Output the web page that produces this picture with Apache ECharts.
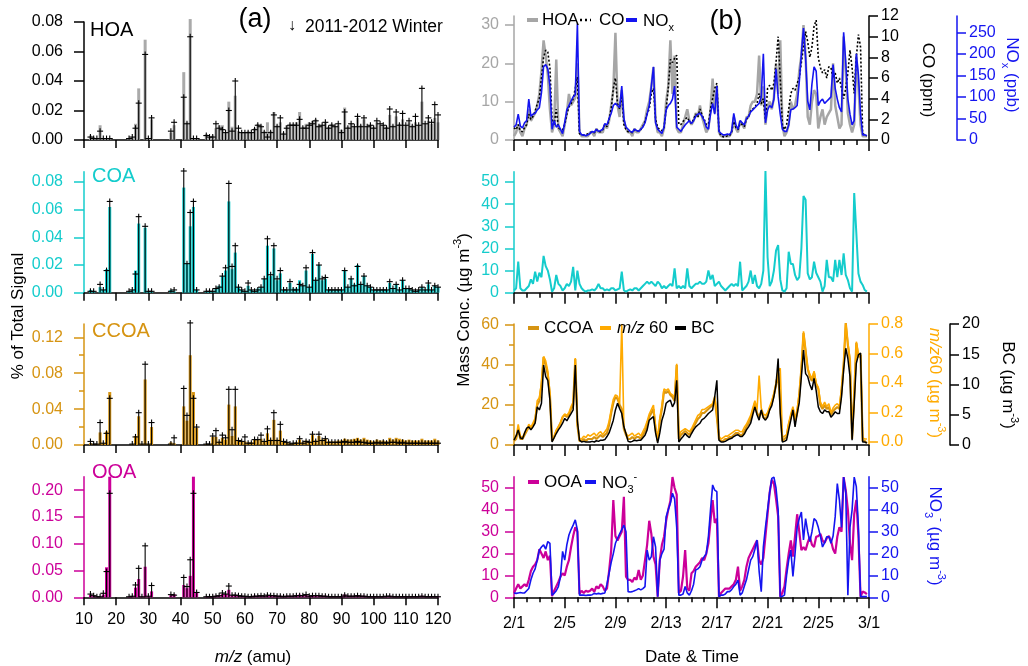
<!DOCTYPE html>
<html>
<head>
<meta charset="utf-8">
<script src="https://cdn.jsdelivr.net/npm/echarts@6/dist/echarts.min.js"></script>
<style>
html, body { margin: 0; padding: 0; background: #fff; }
#chart { width: 1028px; height: 666px; }
</style>
</head>
<body>
<div id="chart"></div>
<script>
// ---- m/z axis of the spectra (12..120 amu) ----
const mzList = [];
for (let m = 12; m <= 120; m++) mzList.push(m);

// spectra, this study (bars) and 2011-2012 winter (sticks); rows: 12-19, 20-29, ..., 110-119, 120
const hoaSpec = [
  0.003, 0.002, 0.001, 0.010, 0.001, 0.001, 0.001, 0,
  0, 0, 0, 0, 0.001, 0.002, 0.011, 0.035, 0, 0.068,
  0.001, 0.014, 0, 0, 0, 0, 0, 0.005, 0.010, 0,
  0, 0.046, 0.012, 0.082, 0.001, 0.001, 0, 0, 0.004, 0.002,
  0.003, 0.008, 0.010, 0.010, 0.005, 0.026, 0.009, 0.030, 0.006, 0.005,
  0.005, 0.006, 0.005, 0.008, 0.011, 0.010, 0.006, 0.012, 0.006, 0.019,
  0.010, 0.012, 0.005, 0.010, 0.011, 0.011, 0.012, 0.019, 0.009, 0.011,
  0.012, 0.013, 0.014, 0.010, 0.010, 0.012, 0.009, 0.011, 0.009, 0.010,
  0.007, 0.022, 0.009, 0.011, 0.009, 0.015, 0.010, 0.014, 0.009, 0.010,
  0.009, 0.012, 0.010, 0.010, 0.009, 0.017, 0.010, 0.016, 0.011, 0.014,
  0.010, 0.012, 0.010, 0.012, 0.010, 0.026, 0.011, 0.013, 0.011, 0.015,
  0.012
];
const hoaWinter = [
  0.002, 0.001, 0.001, 0.006, 0.001, 0.001, 0.001, 0,
  0, 0, 0, 0, 0.001, 0.002, 0.008, 0.025, 0, 0.058,
  0.001, 0.015, 0, 0, 0, 0, 0, 0.006, 0.012, 0,
  0, 0.029, 0.011, 0.070, 0.001, 0.001, 0, 0, 0.003, 0.002,
  0.002, 0.011, 0.008, 0.007, 0.005, 0.020, 0.006, 0.040, 0.008, 0.005,
  0.005, 0.005, 0.005, 0.007, 0.010, 0.009, 0.005, 0.002, 0.005, 0.017,
  0.009, 0.015, 0.004, 0.008, 0.010, 0.010, 0.010, 0.014, 0.008, 0.008,
  0.010, 0.011, 0.013, 0.009, 0.010, 0.012, 0.008, 0.010, 0.009, 0.011,
  0.005, 0.019, 0.008, 0.011, 0.009, 0.016, 0.009, 0.015, 0.009, 0.010,
  0.008, 0.013, 0.011, 0.010, 0.008, 0.021, 0.009, 0.019, 0.010, 0.018,
  0.010, 0.013, 0.009, 0.016, 0.010, 0.035, 0.011, 0.015, 0.012, 0.024,
  0.017
];
const coaSpec = [
  0.002, 0.001, 0, 0.004, 0.002, 0.017, 0.062, 0,
  0, 0, 0, 0, 0.001, 0.002, 0.016, 0.050, 0, 0.047,
  0.001, 0.001, 0, 0, 0, 0, 0, 0.002, 0.001, 0,
  0, 0.076, 0.021, 0.048, 0.062, 0.002, 0, 0, 0.001, 0.001,
  0.001, 0.003, 0.005, 0.012, 0.016, 0.066, 0.017, 0.029, 0.004, 0.002,
  0.001, 0.005, 0.002, 0.001, 0.003, 0.004, 0.010, 0.034, 0.012, 0.032,
  0.009, 0.014, 0.002, 0.002, 0.007, 0.003, 0.003, 0.009, 0.005, 0.016,
  0.004, 0.028, 0.009, 0.020, 0.009, 0.010, 0.002, 0.002, 0.002, 0.002,
  0.002, 0.016, 0.004, 0.010, 0.006, 0.020, 0.006, 0.012, 0.005, 0.004,
  0.002, 0.002, 0.002, 0.002, 0.002, 0.007, 0.003, 0.006, 0.002, 0.009,
  0.003, 0.003, 0.002, 0.001, 0.002, 0.004, 0.002, 0.006, 0.002, 0.005,
  0.004
];
const coaWinter = [
  0.001, 0.001, 0, 0.006, 0.002, 0.016, 0.066, 0,
  0, 0, 0, 0, 0.001, 0.002, 0.0135, 0.055, 0, 0.048,
  0.001, 0.001, 0, 0, 0, 0, 0, 0.001, 0.002, 0,
  0, 0.088, 0.021, 0.058, 0.066, 0.002, 0, 0, 0.001, 0.001,
  0.001, 0.003, 0.004, 0.012, 0.018, 0.079, 0.019, 0.034, 0.004, 0.002,
  0.001, 0.007, 0.002, 0.001, 0.002, 0.004, 0.010, 0.039, 0.013, 0.034,
  0.010, 0.016, 0.002, 0.002, 0.008, 0.002, 0.002, 0.006, 0.005, 0.018,
  0.004, 0.029, 0.009, 0.020, 0.010, 0.011, 0.002, 0.002, 0.002, 0.002,
  0.002, 0.016, 0.004, 0.010, 0.005, 0.019, 0.006, 0.012, 0.005, 0.004,
  0.002, 0.002, 0.002, 0.002, 0.002, 0.008, 0.003, 0.006, 0.002, 0.009,
  0.003, 0.003, 0.002, 0.001, 0.002, 0.004, 0.002, 0.007, 0.002, 0.005,
  0.004
];
const ccoaSpec = [
  0.002, 0.001, 0.001, 0.014, 0.002, 0.015, 0.059, 0,
  0, 0, 0, 0, 0, 0.001, 0.010, 0.032, 0.001, 0.073,
  0.001, 0.020, 0, 0, 0, 0, 0, 0.003, 0.002, 0,
  0, 0.043, 0.027, 0.100, 0.059, 0.019, 0, 0, 0.001, 0.001,
  0.009, 0.009, 0.004, 0.008, 0.006, 0.045, 0.010, 0.043, 0.005, 0.004,
  0.004, 0.003, 0.003, 0.006, 0.006, 0.007, 0.004, 0.013, 0.006, 0.028,
  0.006, 0.016, 0.004, 0.003, 0.002, 0.002, 0.003, 0.006, 0.003, 0.005,
  0.004, 0.011, 0.005, 0.010, 0.006, 0.007, 0.004, 0.004, 0.004, 0.005,
  0.005, 0.007, 0.006, 0.006, 0.007, 0.008, 0.006, 0.008, 0.006, 0.005,
  0.004, 0.006, 0.005, 0.005, 0.004, 0.008, 0.006, 0.008, 0.007, 0.006,
  0.005, 0.006, 0.005, 0.005, 0.005, 0.007, 0.005, 0.005, 0.005, 0.007,
  0.005
];
const ccoaWinter = [
  0.004, 0.001, 0.001, 0.025, 0.002, 0.013, 0.052, 0,
  0, 0, 0, 0, 0, 0.001, 0.009, 0.036, 0.001, 0.090,
  0.001, 0.025, 0, 0, 0, 0, 0, 0.001, 0.008, 0,
  0, 0.063, 0.033, 0.136, 0.052, 0.020, 0, 0, 0.001, 0.001,
  0.010, 0.016, 0.003, 0.011, 0.008, 0.062, 0.017, 0.062, 0.005, 0.004,
  0.009, 0.002, 0.002, 0.006, 0.006, 0.011, 0.004, 0.018, 0.005, 0.036,
  0.005, 0.023, 0.004, 0.003, 0.001, 0.002, 0.002, 0.007, 0.002, 0.004,
  0.003, 0.012, 0.004, 0.012, 0.005, 0.007, 0.003, 0.003, 0.003, 0.003,
  0.003, 0.004, 0.003, 0.003, 0.003, 0.004, 0.003, 0.003, 0.002, 0.002,
  0.002, 0.003, 0.002, 0.003, 0.002, 0.003, 0.003, 0.003, 0.002, 0.003,
  0.002, 0.002, 0.002, 0.002, 0.002, 0.002, 0.002, 0.002, 0.002, 0.002,
  0.002
];
const ooaSpec = [
  0.005, 0.003, 0.001, 0.001, 0.005, 0.056, 0.225, 0,
  0, 0, 0, 0, 0.001, 0.002, 0.018, 0.034, 0.001, 0.057,
  0.002, 0.011, 0, 0, 0, 0, 0, 0.004, 0.006, 0,
  0, 0.023, 0.017, 0.040, 0.225, 0.008, 0, 0, 0.001, 0.002,
  0.002, 0.003, 0.004, 0.006, 0.006, 0.014, 0.004, 0.005, 0.003, 0.003,
  0.002, 0.002, 0.002, 0.003, 0.003, 0.003, 0.003, 0.004, 0.004, 0.004,
  0.003, 0.003, 0.002, 0.003, 0.003, 0.003, 0.004, 0.005, 0.004, 0.005,
  0.003, 0.004, 0.004, 0.004, 0.003, 0.003, 0.002, 0.002, 0.002, 0.002,
  0.002, 0.005, 0.003, 0.003, 0.003, 0.004, 0.003, 0.003, 0.002, 0.002,
  0.002, 0.002, 0.002, 0.002, 0.002, 0.003, 0.002, 0.002, 0.002, 0.002,
  0.002, 0.002, 0.002, 0.002, 0.002, 0.003, 0.002, 0.002, 0.002, 0.002,
  0.002
];
const ooaWinter = [
  0.006, 0.003, 0.001, 0.001, 0.0075, 0.048, 0.194, 0,
  0, 0, 0, 0, 0.001, 0.002, 0.023, 0.054, 0.001, 0.096,
  0.002, 0.022, 0, 0, 0, 0, 0, 0.005, 0.004, 0,
  0, 0.037, 0.020, 0.070, 0.194, 0.009, 0, 0, 0.001, 0.001,
  0.001, 0.002, 0.003, 0.008, 0.006, 0.021, 0.004, 0.004, 0.003, 0.002,
  0.002, 0.001, 0.001, 0.002, 0.002, 0.003, 0.002, 0.004, 0.003, 0.003,
  0.002, 0.002, 0.001, 0.002, 0.002, 0.002, 0.003, 0.003, 0.003, 0.005,
  0.002, 0.003, 0.003, 0.003, 0.002, 0.002, 0.001, 0.001, 0.001, 0.001,
  0.001, 0.004, 0.002, 0.002, 0.002, 0.003, 0.002, 0.002, 0.001, 0.001,
  0.001, 0.001, 0.001, 0.001, 0.002, 0.002, 0.001, 0.001, 0.001, 0.001,
  0.001, 0.001, 0.001, 0.001, 0.001, 0.002, 0.001, 0.001, 0.001, 0.001,
  0.001
];

// ---- time series, 4-hourly from 2/1 00:00, one row per day ----
const stepHours = 4;
const dateLabels = ['2/1', '2/5', '2/9', '2/13', '2/17', '2/21', '2/25', '3/1'];

const hoaTs = [
  1, 2, 4, 2, 1, 3,   4, 8, 5, 6, 7, 9,   12, 18, 26, 22, 17, 8,   2, 4, 21, 3, 2, 1,
  4, 7, 12, 9, 10, 11,   20, 2, 1, 1, 1, 1,   2, 2, 1, 3, 2, 2,   2, 4, 3, 5, 9, 13,
  28, 9, 6, 13, 5, 3,   2, 2, 1, 3, 2, 2,   3, 4, 5, 8, 10, 14,   19, 5, 2, 2, 1, 3,
  10, 14, 26, 12, 22, 3,   2, 2, 4, 6, 8, 5,   4, 5, 7, 6, 9, 6,   4, 2, 3, 8, 16, 7,
  14, 2, 1, 1, 1, 1,   1, 2, 6, 3, 2, 5,   4, 3, 6, 6, 9, 10,   10, 12, 22, 9, 14, 4,
  9, 10, 8, 11, 20, 12,   26, 4, 1, 2, 4, 10,   8, 9, 12, 18, 22, 30,   22, 6, 4, 10, 13, 12,
  3, 6, 8, 4, 6, 7,   8, 20, 9, 6, 3, 4,   27, 18, 7, 4, 2, 4,   22, 14, 4, 1, 1, 1
];
const coTs = [
  1.2, 1.0, 1.5, 0.9, 0.8, 1.2,   1.5, 2.5, 2.0, 2.3, 2.8, 3.5,   4.0, 6.0, 8.0, 8.7, 8.5, 7.0,   2.0, 1.5, 3.0, 1.2, 1.0, 1.0,
  1.5, 2.5, 3.2, 3.5, 4.0, 5.0,   6.1, 0.6, 0.5, 0.5, 0.5, 0.6,   0.7, 0.8, 0.7, 1.0, 0.8, 0.8,   1.0, 1.5, 1.3, 2.0, 3.0, 5.0,
  6.0, 3.5, 3.0, 4.5, 1.5, 1.0,   0.8, 0.8, 0.7, 1.0, 0.9, 0.9,   1.0, 1.3, 1.8, 2.5, 3.0, 4.5,   5.0, 2.0, 1.2, 1.0, 0.9, 1.2,
  3.0, 5.0, 7.8, 7.5, 7.9, 8.2,   1.5, 1.5, 1.8, 2.0, 2.2, 1.8,   1.6, 2.0, 2.5, 2.2, 3.0, 2.4,   2.0, 1.5, 1.5, 3.0, 4.0, 5.0,
  5.5, 0.8, 0.4, 0.3, 0.3, 0.4,   0.4, 0.8, 1.8, 1.2, 1.0, 1.6,   1.5, 1.3, 2.0, 2.2, 2.8, 3.0,   3.2, 3.5, 4.5, 3.5, 4.0, 2.0,
  5.0, 5.3, 4.8, 5.5, 7.5, 10.0,   6.0, 1.5, 1.0, 1.5, 3.0, 4.5,   5.0, 4.8, 5.5, 6.0, 7.5, 9.0,   10.5, 9.5, 8.0, 9.0, 11.0, 11.6,
  8.0, 7.0, 6.5, 6.8, 6.0, 7.1,   7.0, 6.0, 6.5, 5.5, 6.0, 5.0,   4.0, 5.0, 6.5, 8.7, 7.0, 4.5,   8.0, 10.2, 9.0, 0.6, 0.5, 0.4
];
const noxTs = [
  30, 35, 60, 32, 28, 40,   45, 95, 55, 60, 62, 70,   75, 110, 170, 175, 165, 125,   25, 45, 30, 35, 25, 15,
  40, 70, 80, 90, 100, 105,   270, 20, 12, 12, 10, 12,   15, 20, 18, 25, 20, 22,   25, 38, 35, 50, 62, 80,
  85, 80, 75, 125, 50, 30,   25, 20, 18, 25, 22, 20,   25, 30, 40, 60, 80, 125,   170, 40, 25, 20, 15, 30,
  70, 80, 85, 95, 125, 30,   25, 20, 28, 35, 40, 45,   38, 45, 55, 60, 62, 55,   45, 30, 25, 60, 85, 60,
  125, 20, 15, 12, 12, 14,   12, 20, 62, 35, 25, 45,   40, 35, 50, 55, 65, 70,   75, 80, 85, 100, 200, 40,
  70, 80, 75, 95, 165, 100,   60, 25, 20, 20, 35, 70,   72, 75, 80, 135, 200, 260,   190, 90, 70, 130, 170, 160,
  80, 90, 95, 85, 90, 95,   100, 175, 120, 95, 75, 65,   250, 180, 95, 60, 35, 45,   200, 150, 60, 12, 12, 10
];
const coaTs = [
  1, 2, 14, 2, 1, 1,   2, 3, 6, 4, 9.5, 5,   9, 7, 16.6, 12, 10, 6,   0.5, 2, 8, 4, 3, 1,
  2, 4, 3, 5, 11.7, 1,   10, 4, 2, 1, 0.5, 1,   1, 1.5, 1, 2, 4, 2,   2, 1, 1.5, 1, 2, 2,
  1, 1.5, 2, 9.5, 1, 0.5,   1, 1.5, 1, 2, 2, 1,   2, 3, 4, 5, 4, 5,   4, 3, 5, 4, 2, 3,
  2, 3, 4, 3, 11, 2,   3, 2, 3, 2, 11, 3,   2, 3, 4, 4, 5, 4,   4, 5, 10, 6, 8, 3,
  4, 5, 3, 2, 1, 2,   3, 4, 3, 4, 3, 14,   1, 2, 3, 5, 10, 4,   8, 3, 2, 4, 10, 55,
  16, 3, 5, 10, 19, 21.5,   6, 1, 0.5, 2, 18.5, 13,   13, 8, 5.7, 7, 20, 43.7,   42, 8.7, 6, 7, 14, 9,
  7, 5, 0.5, 3, 14.8, 7,   7, 5, 14.8, 7, 14.8, 8,   17.8, 8, 5.7, 2, 0.5, 45,   27, 8.7, 5, 3.5, 1.2, 0.5
];
const ccoaTs = [
  2, 3, 8, 3, 3, 5,   7, 9, 8, 10, 12, 20,   22, 30, 44, 40, 35, 25,   2, 4, 7, 9, 11, 14,
  15, 14, 15, 18, 20, 43,   10, 2, 2, 3, 2, 3,   3, 3, 4, 3, 4, 5,   4, 5, 6, 10, 16, 21,
  24, 23, 20, 18, 8, 5,   3, 3, 4, 3, 4, 4,   3, 5, 7, 10, 14, 16,   18, 8, 2, 12, 18, 27,
  26, 27, 25, 24, 22, 40,   3, 5, 6, 7, 6, 5,   7, 9, 11, 13, 14, 16,   16, 17, 18, 19, 20, 23,
  14, 3, 2, 2, 3, 3,   4, 4, 5, 6, 6, 5,   5, 7, 9, 11, 13, 17,   21, 16, 14, 17, 14, 13,
  15, 18, 21, 25, 30, 36,   20, 2, 3, 4, 10, 14,   18, 12, 16, 25, 38, 56,   47, 38, 34, 32, 36, 30,
  28, 20, 18, 20, 18, 19,   15, 17, 18, 19, 18, 27,   40, 61, 50, 42, 3, 25,   51, 44, 45, 2, 2, 1
];
const mz60Ts = [
  0.02, 0.03, 0.12, 0.04, 0.03, 0.06,   0.08, 0.12, 0.10, 0.13, 0.16, 0.28,   0.30, 0.40, 0.58, 0.55, 0.48, 0.33,   0.02, 0.04, 0.08, 0.10, 0.13, 0.17,
  0.19, 0.18, 0.20, 0.24, 0.27, 0.57,   0.12, 0.02, 0.02, 0.04, 0.03, 0.05,   0.04, 0.05, 0.06, 0.04, 0.06, 0.07,   0.05, 0.07, 0.09, 0.14, 0.22, 0.29,
  0.32, 0.31, 0.26, 0.80, 0.10, 0.06,   0.04, 0.05, 0.06, 0.04, 0.05, 0.06,   0.04, 0.07, 0.10, 0.14, 0.19, 0.22,   0.25, 0.10, 0.02, 0.16, 0.25, 0.36,
  0.35, 0.36, 0.33, 0.32, 0.30, 0.53,   0.04, 0.07, 0.08, 0.09, 0.08, 0.07,   0.09, 0.12, 0.15, 0.18, 0.19, 0.22,   0.22, 0.23, 0.24, 0.25, 0.26, 0.31,
  0.18, 0.04, 0.02, 0.03, 0.04, 0.04,   0.05, 0.06, 0.07, 0.08, 0.08, 0.07,   0.07, 0.10, 0.12, 0.15, 0.18, 0.23,   0.28, 0.22, 0.45, 0.23, 0.19, 0.18,
  0.20, 0.24, 0.28, 0.33, 0.40, 0.48,   0.50, 0.03, 0.04, 0.05, 0.13, 0.19,   0.24, 0.16, 0.22, 0.33, 0.50, 0.75,   0.62, 0.50, 0.46, 0.43, 0.48, 0.40,
  0.37, 0.27, 0.24, 0.27, 0.24, 0.26,   0.20, 0.23, 0.25, 0.26, 0.24, 0.36,   0.53, 0.81, 0.67, 0.56, 0.04, 0.33,   0.68, 0.59, 0.60, 0.03, 0.02, 0.02
];
const bcTs = [
  0.8, 1.5, 2.5, 1.2, 1.0, 2.0,   2.8, 3.0, 2.5, 3.0, 3.6, 6.3,   5.8, 6.9, 13.2, 11.3, 10.7, 7.4,   0.5, 1.2, 1.9, 2.5, 3.0, 3.6,
  4.4, 4.0, 4.6, 5.2, 5.8, 13.2,   4.0, 0.8, 0.5, 0.6, 0.5, 0.5,   0.5, 0.6, 0.5, 0.7, 0.6, 0.8,   0.8, 0.9, 1.4, 2.0, 3.0, 4.1,
  5.8, 6.9, 6.0, 5.2, 3.0, 1.9,   0.6, 0.5, 0.6, 0.8, 0.7, 0.8,   0.8, 1.2, 1.6, 2.5, 4.1, 4.4,   4.7, 2.0, 0.3, 2.0, 4.1, 5.2,
  6.9, 7.2, 7.4, 6.3, 7.0, 10.7,   0.5, 1.0, 1.4, 1.9, 1.5, 1.2,   1.9, 2.5, 3.0, 3.3, 3.6, 4.2,   4.4, 4.8, 5.2, 5.5, 5.8, 8.0,
  10.7, 0.8, 0.5, 0.5, 0.6, 0.8,   1.0, 1.1, 1.4, 1.6, 1.7, 1.4,   1.4, 1.8, 2.5, 3.0, 3.6, 5.0,   6.3, 5.0, 4.1, 5.8, 4.5, 4.1,
  4.6, 5.8, 6.5, 8.0, 10.0, 14.3,   5.2, 0.5, 0.6, 0.8, 2.5, 4.1,   5.8, 3.0, 5.2, 7.0, 11.3, 15.7,   11.8, 11.3, 10.0, 9.1, 11.0, 9.0,
  6.3, 5.5, 5.2, 5.8, 5.5, 5.5,   4.6, 5.0, 5.5, 5.2, 5.2, 8.0,   12.4, 16.0, 14.3, 11.3, 0.8, 6.9,   13.5, 14.9, 15.2, 0.5, 0.5, 0.3
];
const ooaTs = [
  2, 4, 6, 4, 5, 6,   5, 8, 12, 14, 15, 17,   22, 20, 18, 21, 17, 19,   0.5, 3, 5, 7, 9.5, 11,
  10, 14, 17, 23, 28, 32,   30, 1.5, 3, 2, 3, 2.5,   3, 4, 2.5, 5, 4, 6,   5, 3, 4, 12, 21.6, 44.5,
  28, 26, 28, 30, 46, 9.5,   8, 8, 7, 9, 8, 12.5,   8, 10, 17, 24, 35, 29,   18.6, 15, 0.3, 17, 24, 27.7,
  35, 40, 44, 55, 50, 47,   2, 3, 9.5, 21.6, 4, 3,   11, 12, 14, 15, 16, 18,   17, 20, 24.7, 35, 44.5, 34,
  36, 0.3, 2, 3, 4, 4,   4, 5, 6, 8, 14, 3,   5, 8, 14, 18, 20, 22,   24, 26, 17, 15, 18, 28,
  38, 48, 53.7, 52, 45, 37,   0.3, 2, 5, 13, 20, 26,   18.6, 28, 38, 30, 21.6, 23,   21.6, 25, 27.7, 24, 23, 27.7,
  28, 29, 26, 25, 27, 28,   26, 22, 20, 27.7, 32, 30,   55, 49, 40, 24.7, 17, 38,   44.5, 27.7, 0.3, 2.6, 2.2, 1.5
];
const no3Ts = [
  2, 1.8, 2, 2.2, 2, 2,   3, 4, 8, 11, 13, 17,   21.6, 23, 24, 22, 25.5, 24.7,   1, 1.8, 3, 4.9, 9.5, 21,
  17, 24, 28.5, 31, 33, 35.4,   30.8, 1, 1, 1, 0.8, 1,   1, 1.2, 1.8, 1.5, 1.8, 1.5,   1.8, 2, 6, 11, 16, 20,
  24.7, 27, 29, 31, 33, 30,   2.6, 2.4, 2.6, 3, 3.4, 4,   3.4, 4, 4.9, 21.6, 17, 18.6,   27.7, 23, 0.3, 17, 20, 22,
  36.9, 40, 43, 47.6, 45, 32,   1, 1, 1.5, 4.9, 2, 1,   3, 6, 12.5, 13, 14, 17,   18.6, 20, 27.7, 40, 51.4, 49,
  48.3, 0.3, 1, 1, 1.5, 2.6,   2.6, 3.5, 4.9, 6, 7.9, 1,   2, 5, 8, 12.5, 17, 18.6,   22, 26.2, 12, 2.6, 23, 32,
  40, 48, 54.4, 55, 50, 40,   0.3, 0.5, 1, 10, 17, 21.6,   9.5, 20, 32, 36, 39, 26.2,   36, 30, 25.5, 30, 36, 35,
  32, 28, 23, 25, 27.7, 27.7,   24.7, 28, 36.9, 52, 44.5, 32,   55, 48, 1, 32, 40, 55,   50.6, 32, 0.3, 0.3, 0.3, 0.3
];

// ---- styling ----
const F = '"Liberation Sans", Arial, Helvetica, sans-serif';
const BLACK = '#000000';
const GRAY = '#a6a6a6';
const TEAL = '#14cccc';
const GOLD = '#d69412';
const ORANGE = '#ffaa00';
const MAGENTA = '#cc0099';
const BLUE = '#1414f0';

const chart = echarts.init(document.getElementById('chart'));

const toSpec = arr => mzList.map((m, i) => [m, arr[i]]);
const toTime = arr => arr.map((v, i) => [i * stepHours / 24, v]);

function yAx(grid, o) {
  return {
    type: 'value', gridIndex: grid, position: o.pos || 'left', offset: o.offset || 0,
    min: o.min || 0, max: o.max,
    axisLine: { show: o.line !== false, onZero: false, lineStyle: { color: o.color, width: 1.5 } },
    axisTick: { show: true, customValues: o.ticks, length: o.tl || 9, lineStyle: { color: o.color, width: 1.5 } },
    axisLabel: { show: o.label !== false, customValues: o.ticks, formatter: o.fmt, color: o.color,
      fontSize: 16, fontFamily: F, margin: o.margin || 12 },
    splitLine: { show: false }
  };
}
function xSpec(grid, showLabel) {
  return {
    type: 'value', gridIndex: grid, min: 10, max: 120, interval: 10,
    axisLine: { onZero: false, lineStyle: { color: BLACK, width: 1.5 } },
    axisTick: { length: 8, lineStyle: { color: BLACK, width: 1.5 } },
    axisLabel: { show: showLabel, color: BLACK, fontSize: 16, fontFamily: F, margin: 14 },
    splitLine: { show: false }
  };
}
function xTime(grid, showLabel) {
  return {
    type: 'value', gridIndex: grid, min: 0, max: 28, interval: 4,
    axisLine: { onZero: false, lineStyle: { color: BLACK, width: 1.5 } },
    axisTick: { length: 11, lineStyle: { color: BLACK, width: 1.5 } },
    minorTick: { show: true, splitNumber: 4, length: 5, lineStyle: { color: BLACK, width: 1.5 } },
    axisLabel: { show: showLabel, formatter: v => dateLabels[Math.round(v / 4)], color: BLACK,
      fontSize: 16, fontFamily: F, margin: 18 },
    splitLine: { show: false }, minorSplitLine: { show: false }
  };
}

const specRows = [
  { top: 22, h: 118, max: 0.08, ticks: [0, 0.02, 0.04, 0.06, 0.08], axis: BLACK, bar: '#aaaaaa', bars: hoaSpec, sticks: hoaWinter },
  { top: 171.7, h: 121, max: 0.0875, ticks: [0, 0.02, 0.04, 0.06, 0.08], axis: TEAL, bar: TEAL, bars: coaSpec, sticks: coaWinter },
  { top: 324, h: 121, max: 0.1348, ticks: [0, 0.04, 0.08, 0.12], axis: GOLD, bar: GOLD, bars: ccoaSpec, sticks: ccoaWinter },
  { top: 476.7, h: 120.6, max: 0.225, ticks: [0, 0.05, 0.10, 0.15, 0.20], axis: MAGENTA, bar: MAGENTA, bars: ooaSpec, sticks: ooaWinter }
];
const timeRows = [
  { top: 16, h: 124 }, { top: 171.7, h: 121 }, { top: 324, h: 121 }, { top: 476.7, h: 120.6 }
];

const grid = [], xAxis = [], yAxis = [], series = [];
const fmt2 = v => v.toFixed(2);

specRows.forEach((r, i) => {
  grid.push({ left: 84, width: 354, top: r.top, height: r.h });
  xAxis.push(xSpec(i, i === 3));
  yAxis.push(yAx(i, { max: r.max, ticks: r.ticks, color: r.axis, fmt: fmt2, margin: 21, tl: 10 }));
});
timeRows.forEach((r, i) => {
  grid.push({ left: 514, width: 355, top: r.top, height: r.h });
  xAxis.push(xTime(4 + i, i === 3));
});

// y axes of the time-series panels
const fmt0 = v => String(v);
const fmt1 = v => v.toFixed(1);
yAxis.push(yAx(4, { max: 32.35, ticks: [0, 10, 20, 30], color: GRAY, fmt: fmt0, margin: 15 }));            // 4
yAxis.push(yAx(4, { pos: 'right', max: 12, ticks: [0, 2, 4, 6, 8, 10, 12], color: BLACK, fmt: fmt0 }));    // 5
yAxis.push(yAx(4, { pos: 'right', offset: 88, max: 287.8, ticks: [0, 50, 100, 150, 200, 250], color: BLUE, fmt: fmt0 })); // 6
yAxis.push(yAx(5, { max: 54.65, ticks: [0, 10, 20, 30, 40, 50], color: TEAL, fmt: fmt0, margin: 15 }));    // 7
yAxis.push(yAx(6, { max: 60.5, ticks: [0, 20, 40, 60], color: GOLD, fmt: fmt0, margin: 15 }));            // 8
yAxis.push(yAx(6, { pos: 'right', min: -0.0203, max: 0.8, ticks: [0, 0.2, 0.4, 0.6, 0.8], color: ORANGE, fmt: fmt1 })); // 9
yAxis.push(yAx(6, { pos: 'right', offset: 81, max: 20, ticks: [0, 5, 10, 15, 20], color: BLACK, fmt: fmt0 })); // 10
yAxis.push(yAx(7, { max: 55.17, ticks: [0, 10, 20, 30, 40, 50], color: MAGENTA, fmt: fmt0, margin: 15 })); // 11
yAxis.push(yAx(7, { pos: 'right', max: 55.17, ticks: [0, 10, 20, 30, 40, 50], color: BLUE, fmt: fmt0 }));  // 12
// short minor ticks on the CCOA axes
yAxis.push(yAx(2, { max: 0.1348, ticks: [0.02, 0.06, 0.10], color: GOLD, line: false, label: false, tl: 5 })); // 13
yAxis.push(yAx(6, { max: 60.5, ticks: [10, 30, 50], color: GOLD, line: false, label: false, tl: 5 }));        // 14

function stickItem(params, api) {
  const v = api.value(1);
  if (!v) return null;
  const p0 = api.coord([api.value(0), 0]);
  const p1 = api.coord([api.value(0), v]);
  const st = { stroke: BLACK, lineWidth: 1.1 };
  return {
    type: 'group', children: [
      { type: 'line', shape: { x1: p0[0], y1: p0[1], x2: p1[0], y2: p1[1] - 3 }, style: st },
      { type: 'line', shape: { x1: p1[0] - 3, y1: p1[1], x2: p1[0] + 3, y2: p1[1] }, style: st }
    ]
  };
}

specRows.forEach((r, i) => {
  series.push({ type: 'bar', xAxisIndex: i, yAxisIndex: i, data: toSpec(r.bars), barWidth: 3,
    clip: false, itemStyle: { color: r.bar }, silent: true });
  series.push({ type: 'custom', xAxisIndex: i, yAxisIndex: i, data: toSpec(r.sticks),
    renderItem: stickItem, clip: false, silent: true, z: 3 });
});

function line(xi, yi, arr, color, width, extra) {
  return Object.assign({ type: 'line', xAxisIndex: xi, yAxisIndex: yi, data: toTime(arr), symbol: 'none',
    lineStyle: { color, width }, silent: true }, extra || {});
}
series.push(line(4, 4, hoaTs, GRAY, 2.5));
series.push(line(4, 5, coTs, BLACK, 1.5, { lineStyle: { color: BLACK, width: 1.6, type: [2, 2] } }));
series.push(line(4, 6, noxTs, BLUE, 1.6));
series.push(line(5, 7, coaTs, TEAL, 2));
series.push(line(6, 8, ccoaTs, GOLD, 2.2));
series.push(line(6, 9, mz60Ts, ORANGE, 1.6));
series.push(line(6, 10, bcTs, BLACK, 1.5));
series.push(line(7, 11, ooaTs, MAGENTA, 2.2));
series.push(line(7, 12, no3Ts, BLUE, 1.6));

// ---- texts, legends ----
function rich(size) {
  return {
    n: { fontSize: size, fontFamily: F, lineHeight: 24 },
    it: { fontSize: size, fontFamily: F, fontStyle: 'italic', lineHeight: 24 },
    sup: { fontSize: Math.round(size * 0.65), fontFamily: F, verticalAlign: 'top', lineHeight: 24 },
    sub: { fontSize: Math.round(size * 0.65), fontFamily: F, verticalAlign: 'bottom', lineHeight: 24 }
  };
}
function txt(x, y, text, o) {
  o = o || {};
  const size = o.size || 17;
  return {
    type: 'text', x, y, rotation: o.rot || 0, silent: true, z: 10,
    style: {
      text, fill: o.color || BLACK, font: (o.italic ? 'italic ' : '') + size + 'px ' + F,
      textAlign: o.align || 'left', textVerticalAlign: 'middle', align: o.align || 'left', verticalAlign: 'middle',
      rich: rich(size)
    }
  };
}
function dash(x, y, color) {
  return { type: 'rect', shape: { x, y: y - 2, width: 11, height: 4 }, style: { fill: color }, silent: true, z: 10 };
}
function dots(x, y) {
  return { type: 'line', shape: { x1: x, y1: y, x2: x + 11, y2: y },
    style: { stroke: BLACK, lineWidth: 2.5, lineDash: [2, 3] }, silent: true, z: 10 };
}

const graphic = [
  txt(255, 20, '(a)', { size: 27, align: 'center' }),
  txt(726, 22, '(b)', { size: 27, align: 'center' }),
  txt(292, 26, '\u2193', { size: 16, align: 'center' }),
  txt(305, 27, '2011-2012 Winter', { size: 17.5 }),
  txt(90, 30, 'HOA', { size: 20 }),
  txt(92, 176, 'COA', { size: 20, color: TEAL }),
  txt(92, 331, 'CCOA', { size: 20, color: GOLD }),
  txt(92, 472, 'OOA', { size: 20, color: MAGENTA }),
  txt(18, 316, '% of Total Signal', { rot: Math.PI / 2, align: 'center' }),
  txt(464, 310, '{n|Mass Conc. (\u00b5g m}{sup|-3}{n|)}', { rot: Math.PI / 2, align: 'center' }),
  txt(253, 657, '{it|m/z}{n| (amu)}', { align: 'center' }),
  txt(692, 657, 'Date & Time', { align: 'center' }),
  txt(928, 80, 'CO (ppm)', { rot: -Math.PI / 2, align: 'center' }),
  txt(1012, 75, '{n|NO}{sub|x}{n| (ppb)}', { rot: -Math.PI / 2, align: 'center', color: BLUE }),
  txt(935, 383, '{it|m/z}{n|60 (\u00b5g m}{sup|-3}{n|)}', { rot: -Math.PI / 2, align: 'center', color: ORANGE }),
  txt(1008, 385, '{n|BC (\u00b5g m}{sup|-3}{n|)}', { rot: -Math.PI / 2, align: 'center' }),
  txt(935, 536, '{n|NO}{sub|3}{sup|-}{n| (\u00b5g m}{sup|-3}{n|)}', { rot: -Math.PI / 2, align: 'center', color: BLUE }),
  // legend b1
  dash(527, 20, GRAY), txt(542, 20, 'HOA'),
  dots(580, 20), txt(599, 20, 'CO'),
  dash(626, 20, BLUE), txt(643, 21, '{n|NO}{sub|x}'),
  // legend b3
  dash(528, 328, GOLD), txt(544, 328, 'CCOA'),
  dash(600, 328, ORANGE), txt(617, 328, '{it|m/z}{n| 60}'),
  dash(675, 328, BLACK), txt(691, 328, 'BC'),
  // legend b4
  dash(528, 482, MAGENTA), txt(544, 482, 'OOA'),
  dash(585, 482, BLUE), txt(602, 483, '{n|NO}{sub|3}{sup|-}')
];

chart.setOption({
  animation: false,
  backgroundColor: '#ffffff',
  textStyle: { fontFamily: F },
  grid, xAxis, yAxis, series, graphic
});
</script>
</body>
</html>
